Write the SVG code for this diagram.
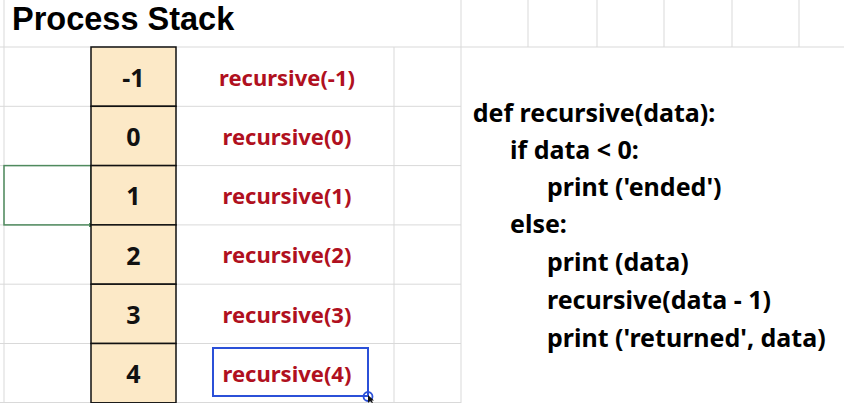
<svg xmlns="http://www.w3.org/2000/svg" width="844" height="403" viewBox="0 0 844 403">
<style>
.grid{stroke:#d9d9d9;stroke-width:1;fill:none}
.cell{fill:#fce9c7;stroke:#111;stroke-width:1.5}
.num{font-family:"Noto Sans","Liberation Sans",sans-serif;font-weight:bold;font-size:25px;fill:#111;text-anchor:middle}
.call{font-family:"Noto Sans","Liberation Sans",sans-serif;font-weight:bold;font-size:22px;fill:#b01020;text-anchor:middle}
.code{font-family:"Noto Sans","Liberation Sans",sans-serif;font-weight:bold;font-size:25px;fill:#000}
.title{font-family:"Liberation Sans",Arial,sans-serif;font-weight:bold;font-size:32.5px;fill:#000}
</style>
<rect width="844" height="403" fill="#fff"/>
<g id="gridlines">
<path class="grid" d="M0 47H844 M0 106.3H461 M0 165.6H461 M0 224.9H461 M0 284.2H461 M0 343.5H461 M0 402.5H461 M4 0V403 M461 0V403 M394 47V403 M528 0V47 M597 0V47 M664 0V47 M732 0V47 M799 0V47"/>
</g>
<g id="title"><text class="title" x="12" y="30">Process Stack</text></g>
<g id="selected-cell">
<rect x="4" y="165.6" width="87" height="59.3" fill="none" stroke="#4f8a5e" stroke-width="1.5"/>
<rect x="89" y="223" width="4" height="4" fill="#4f8a5e"/>
</g>
<g id="stack-m1"><rect class="cell" x="91" y="47" width="85" height="59.3"/><text class="num" x="133.5" y="86.7">-1</text></g>
<g id="stack-0"><rect class="cell" x="91" y="106.3" width="85" height="59.3"/><text class="num" x="133.5" y="146">0</text></g>
<g id="stack-1"><rect class="cell" x="91" y="165.6" width="85" height="59.3"/><text class="num" x="133.5" y="205.3">1</text></g>
<g id="stack-2"><rect class="cell" x="91" y="224.9" width="85" height="59.3"/><text class="num" x="133.5" y="264.6">2</text></g>
<g id="stack-3"><rect class="cell" x="91" y="284.2" width="85" height="59.3"/><text class="num" x="133.5" y="323.9">3</text></g>
<g id="stack-4"><rect class="cell" x="91" y="343.5" width="85" height="59.3"/><text class="num" x="133.5" y="383.2">4</text></g>
<g id="call-m1"><text class="call" x="287" y="85.5">recursive(-1)</text></g>
<g id="call-0"><text class="call" x="287" y="144.5">recursive(0)</text></g>
<g id="call-1"><text class="call" x="287" y="203.8">recursive(1)</text></g>
<g id="call-2"><text class="call" x="287" y="263.2">recursive(2)</text></g>
<g id="call-3"><text class="call" x="287" y="322.5">recursive(3)</text></g>
<g id="call-4">
<rect x="213" y="348" width="155" height="48" fill="none" stroke="#2b50d8" stroke-width="2"/>
<text class="call" x="287" y="381.7">recursive(4)</text>
<circle cx="368" cy="396.5" r="4.5" fill="none" stroke="#2b50d8" stroke-width="1.8"/>
<path d="M368 395 L368 403 L370 401 L372 403 L373 402.5 L371.5 400.5 L374 400.5 Z" fill="#111"/>
</g>
<g id="code">
<text class="code" x="472.7" y="121.7">def recursive(data):</text>
<text class="code" x="510" y="158.5">if data &lt; 0:</text>
<text class="code" x="547" y="196">print ('ended')</text>
<text class="code" x="510" y="233.3">else:</text>
<text class="code" x="547" y="271.3">print (data)</text>
<text class="code" x="547" y="308.5">recursive(data - 1)</text>
<text class="code" x="547" y="346.5">print ('returned', data)</text>
</g>
<g id="connectors"/>
</svg>
